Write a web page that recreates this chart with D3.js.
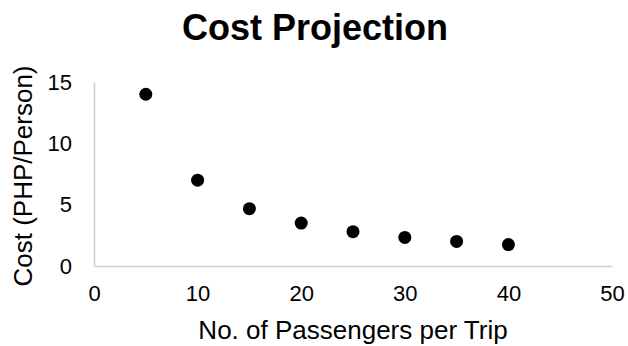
<!DOCTYPE html>
<html>
<head>
<meta charset="utf-8">
<script src="https://cdn.jsdelivr.net/npm/d3@7"></script>
<style>
  html, body { margin: 0; padding: 0; background: #fff; }
  text { font-family: Arial, "Liberation Sans", sans-serif; fill: #000; }
</style>
</head>
<body>
<svg id="chart" width="628" height="346"></svg>
<script>
// Passengers per trip and the resulting cost per person
const passengers = [5, 10, 15, 20, 25, 30, 35, 40];
const costPerPerson = [14, 7, 4.67, 3.5, 2.8, 2.33, 2, 1.75];
const xTicks = [0, 10, 20, 30, 40, 50];
const yTicks = [0, 5, 10, 15];

const svg = d3.select("#chart");
const plot = { left: 94, right: 612, top: 82, bottom: 266 };

const x = d3.scaleLinear().domain([0, 50]).range([plot.left, plot.right]);
const y = d3.scaleLinear().domain([0, 15]).range([plot.bottom, plot.top]);

// Axes: light grey baselines, no tick marks
const xAxis = svg.append("g")
  .attr("transform", `translate(0,${plot.bottom})`)
  .call(d3.axisBottom(x).tickValues(xTicks).tickSize(0).tickPadding(20));
const yAxis = svg.append("g")
  .attr("transform", `translate(${plot.left},0)`)
  .call(d3.axisLeft(y).tickValues(yTicks).tickSize(0).tickPadding(22));

[xAxis, yAxis].forEach(g => {
  g.select(".domain").attr("stroke", "#d0d0d0").attr("stroke-width", 1.6);
  g.selectAll("text")
    .style("font-family", "Arial, 'Liberation Sans', sans-serif")
    .style("font-size", "22px")
    .attr("fill", "#000");
});
xAxis.selectAll("text").attr("dy", "0.7em");

// Data points
svg.append("g").selectAll("circle")
  .data(passengers.map((p, i) => ({ p, c: costPerPerson[i] })))
  .join("circle")
  .attr("cx", d => x(d.p))
  .attr("cy", d => y(d.c))
  .attr("r", 6.5)
  .attr("fill", "#000");

// Title
svg.append("text")
  .attr("x", 315).attr("y", 40)
  .attr("text-anchor", "middle")
  .style("font-size", "36px")
  .style("font-weight", "bold")
  .text("Cost Projection");

// Axis titles
svg.append("text")
  .attr("x", (plot.left + plot.right) / 2).attr("y", 339)
  .attr("text-anchor", "middle")
  .style("font-size", "26px")
  .text("No. of Passengers per Trip");

svg.append("text")
  .attr("transform", `translate(32,${(plot.top + plot.bottom) / 2 + 2}) rotate(-90)`)
  .attr("text-anchor", "middle")
  .style("font-size", "26px")
  .text("Cost (PHP/Person)");
</script>
</body>
</html>
